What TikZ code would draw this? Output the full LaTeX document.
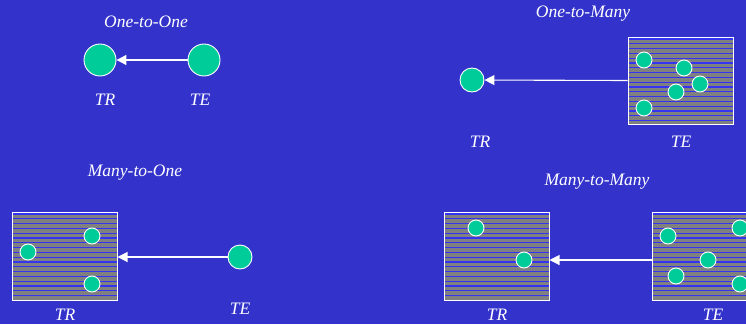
\documentclass[tikz,border=0pt]{standalone}
\usepackage{fontspec}
\setmainfont{Liberation Serif}
\usetikzlibrary{arrows.meta}
\definecolor{bg}{RGB}{51,51,204}
\definecolor{dot}{RGB}{0,204,153}
\definecolor{stripe}{RGB}{128,128,128}
\definecolor{rulecol}{RGB}{51,51,240}
\begin{document}
\begin{tikzpicture}[x=1pt,y=-1pt,
  lbl/.style={text=white, font=\fontsize{17.5}{20}\selectfont\itshape, inner sep=0pt},
  bigdot/.style={circle, fill=dot, draw=white, line width=0.9pt, minimum size=#1, inner sep=0pt},
  bigdot/.default=16pt,
  pool/.style={draw=white, line width=1pt, fill=stripe, minimum width=105pt,
    minimum height=88pt, inner sep=0pt,
    path picture={\foreach \k in {0,...,18}
      \draw[rulecol, line width=1.2pt]
        ([yshift={-(1.9+\k*4.8)*1pt}]path picture bounding box.north west) -- ++(200,0);}},
  link/.style={draw=white, line width=1.1pt, -{Triangle[length=10pt,width=10pt]}}]
  \fill[bg] (0,0) rectangle (746,324);
  \useasboundingbox (0,0) rectangle (746,324);

  % One-to-One
  \node[lbl] (t1) at (146,22) {One-to-One};
  \node[bigdot=32pt] (a1) at (100,60) {};
  \node[bigdot=32pt] (b1) at (204,60) {};
  \draw[link] (b1) -- (a1);
  \node[lbl] (a1l) at (105,100) {TR};
  \node[lbl] (b1l) at (200,100) {TE};

  % One-to-Many
  \node[lbl] (t2) at (583,14) {One-to-Many};
  \node[bigdot=24pt] (a2) at (472,80) {};
  \node[pool, minimum height=87pt] (b2) at (680.5,80.5) {};
  \foreach \p [count=\i] in {(644,60),(684,68),(700,84),(676,92),(644,108)}
    \node[bigdot] (b2d\i) at \p {};
  \draw[link] (b2.west) -- (a2);
  \node[lbl] (a2l) at (480,142) {TR};
  \node[lbl] (b2l) at (681,142) {TE};

  % Many-to-One
  \node[lbl] (t3) at (135,173) {Many-to-One};
  \node[pool] (a3) at (64.5,256) {};
  \foreach \p [count=\i] in {(28,252),(92,236),(92,284)}
    \node[bigdot] (a3d\i) at \p {};
  \node[bigdot=24pt] (b3) at (240,257) {};
  \draw[link] (b3) -- (b3 -| a3.east);
  \node[lbl, anchor=base] (a3l) at (65,320.5) {TR};
  \node[lbl] (b3l) at (240,309) {TE};

  % Many-to-Many
  \node[lbl] (t4) at (597,182) {Many-to-Many};
  \node[pool] (a4) at (496.5,256) {};
  \foreach \p [count=\i] in {(476,228),(524,260)}
    \node[bigdot] (a4d\i) at \p {};
  \node[pool] (b4) at (704.5,256) {};
  \foreach \p [count=\i] in {(668,236),(708,260),(676,276),(740,228),(740,284)}
    \node[bigdot] (b4d\i) at \p {};
  \draw[link] ([yshift=-4pt]b4.west) -- ([yshift=-4pt]a4.east);
  \node[lbl, anchor=base] (a4l) at (497,320.5) {TR};
  \node[lbl, anchor=base] (b4l) at (713,320.5) {TE};
\end{tikzpicture}
\end{document}
